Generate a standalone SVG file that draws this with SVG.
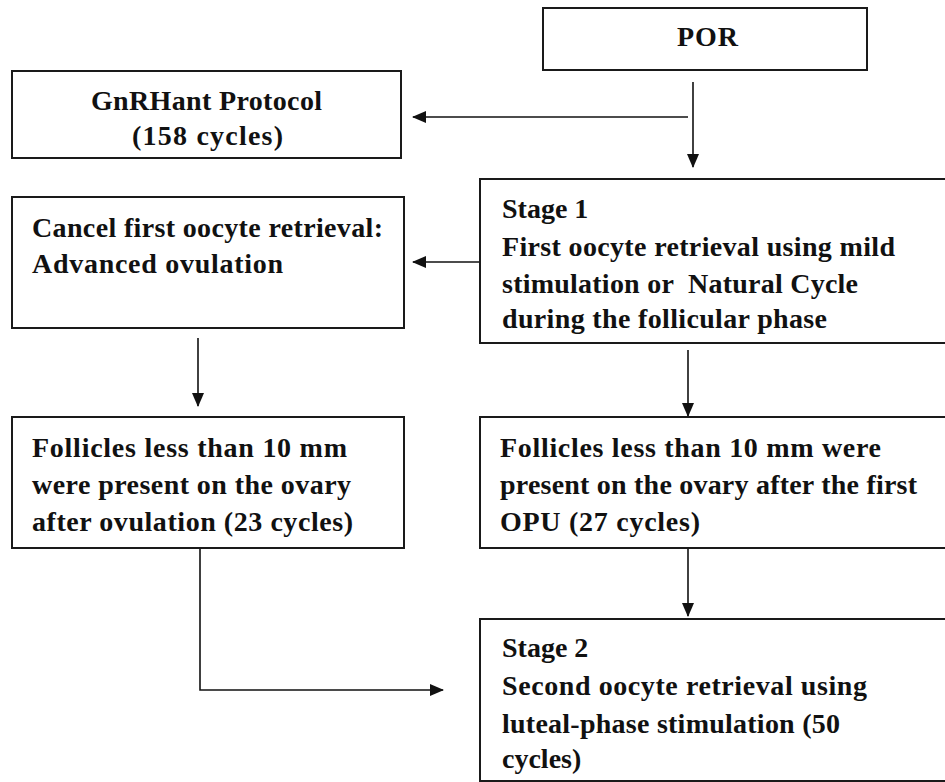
<svg xmlns="http://www.w3.org/2000/svg" width="945" height="782" viewBox="0 0 945 782">
<style>
.box{fill:#fff;stroke:#1a1a1a;stroke-width:2}
.t{font-family:"Liberation Serif","Times New Roman",serif;font-weight:bold;font-size:28px;fill:#111}
.c{fill:none;stroke:#111;stroke-width:1.6}
</style>
<defs>
<marker id="ah" markerUnits="userSpaceOnUse" markerWidth="14" markerHeight="12" refX="13" refY="6" orient="auto">
<path d="M0,0 L14,6 L0,12 z" fill="#111"/>
</marker>
</defs>
<rect width="945" height="782" fill="#fff"/>
<g id="connectors">
<line class="c" x1="693" y1="82" x2="693" y2="167" marker-end="url(#ah)"/>
<line class="c" x1="688" y1="117" x2="413" y2="117" marker-end="url(#ah)"/>
<line class="c" x1="480" y1="262" x2="413" y2="262" marker-end="url(#ah)"/>
<line class="c" x1="198" y1="338" x2="198" y2="406" marker-end="url(#ah)"/>
<line class="c" x1="688" y1="350" x2="688" y2="416" marker-end="url(#ah)"/>
<line class="c" x1="688" y1="548" x2="688" y2="616" marker-end="url(#ah)"/>
<polyline class="c" points="200,548 200,690 443,690" marker-end="url(#ah)"/>
</g>
<g id="por">
<rect class="box" x="543" y="8" width="324" height="62"/>
<text class="t" x="677" y="46" textLength="61">POR</text>
</g>
<g id="gnrhant">
<rect class="box" x="12" y="71" width="389" height="87"/>
<text class="t" x="91" y="110" textLength="231">GnRHant Protocol</text>
<text class="t" x="132" y="145" textLength="151">(158 cycles)</text>
</g>
<g id="cancel">
<rect class="box" x="12" y="197" width="392" height="131"/>
<text class="t" x="32" y="237" textLength="351">Cancel first oocyte retrieval:</text>
<text class="t" x="32" y="273" textLength="251">Advanced ovulation</text>
</g>
<g id="stage1">
<rect class="box" x="480" y="179" width="470" height="164"/>
<text class="t" x="502" y="218">Stage 1</text>
<text class="t" x="502" y="256" textLength="393">First oocyte retrieval using mild</text>
<text class="t" x="502" y="293" textLength="356" xml:space="preserve">stimulation or  Natural Cycle</text>
<text class="t" x="502" y="328" textLength="325">during the follicular phase</text>
</g>
<g id="follicles-left">
<rect class="box" x="12" y="417" width="392" height="131"/>
<text class="t" x="32" y="457" textLength="315">Follicles less than 10 mm</text>
<text class="t" x="32" y="494" textLength="319">were present on the ovary</text>
<text class="t" x="32" y="531" textLength="321">after ovulation (23 cycles)</text>
</g>
<g id="follicles-right">
<rect class="box" x="480" y="417" width="470" height="131"/>
<text class="t" x="500" y="457" textLength="381">Follicles less than 10 mm were</text>
<text class="t" x="500" y="494" textLength="417">present on the ovary after the first</text>
<text class="t" x="500" y="531" textLength="200">OPU (27 cycles)</text>
</g>
<g id="stage2">
<rect class="box" x="480" y="619" width="470" height="162"/>
<text class="t" x="502" y="657">Stage 2</text>
<text class="t" x="502" y="695" textLength="365">Second oocyte retrieval using</text>
<text class="t" x="502" y="733" textLength="338">luteal-phase stimulation (50</text>
<text class="t" x="502" y="768">cycles)</text>
</g>
</svg>
